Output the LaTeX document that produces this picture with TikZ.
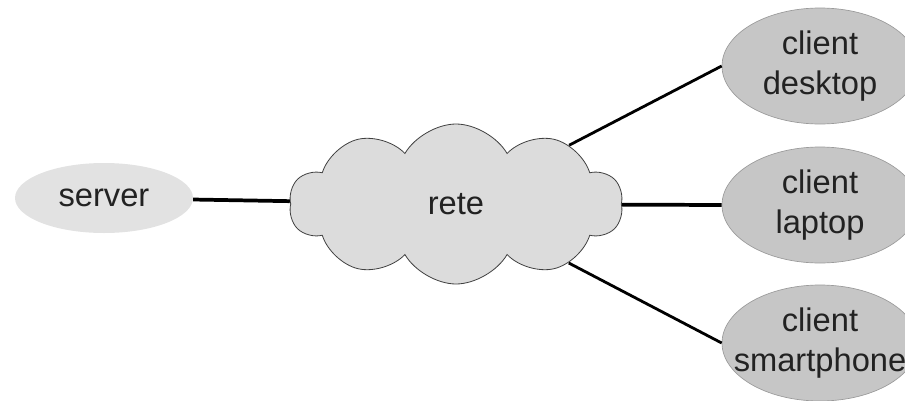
\documentclass[tikz,border=0pt]{standalone}
\usepackage{fontspec}
\setmainfont{Liberation Sans}
\usetikzlibrary{shapes.geometric,shapes.symbols}
\definecolor{srvfill}{HTML}{E2E2E2}
\definecolor{cloudfill}{HTML}{DCDCDC}
\definecolor{clifill}{HTML}{C6C6C6}
\definecolor{cliedge}{HTML}{9A9A9A}
\definecolor{txt}{HTML}{222222}
\begin{document}
\begin{tikzpicture}[x=0.75pt,y=-0.75pt,
  lbl/.style={text=txt,font=\fontsize{24.5pt}{30pt}\selectfont,align=center,inner sep=0pt},
  srv/.style={lbl,ellipse,fill=srvfill,minimum width=133.5pt,minimum height=52.5pt},
  cli/.style={lbl,ellipse,fill=clifill,draw=cliedge,line width=0.5pt,minimum width=147pt,minimum height=87pt},
  net/.style={lbl,cloud,cloud puffs=10,cloud puff arc=120,aspect=2.3,fill=cloudfill,draw=black!75,line width=0.6pt,minimum width=250pt,minimum height=120pt},
  link/.style={line width=2.8pt,black},
  dlink/.style={line width=2.1pt,black}]
\useasboundingbox (0,0) rectangle (905,400);
\clip (0,0) rectangle (905,400);
\node[srv] (server) at (104,198) {server};
\node[net] (rete) at (456,204) {rete};
\node[cli] (desk) at (820,66) {client\\desktop};
\node[cli] (lap) at (820,205) {client\\laptop};
\node[cli] (phone) at (820,343) {client\\\makebox[0pt]{smartphone}};
\draw[link] (server) -- (rete);
\draw[dlink] (rete) -- (desk.west);
\draw[link] (rete) -- (lap.west);
\draw[dlink] (rete) -- (phone.west);
\end{tikzpicture}
\end{document}
